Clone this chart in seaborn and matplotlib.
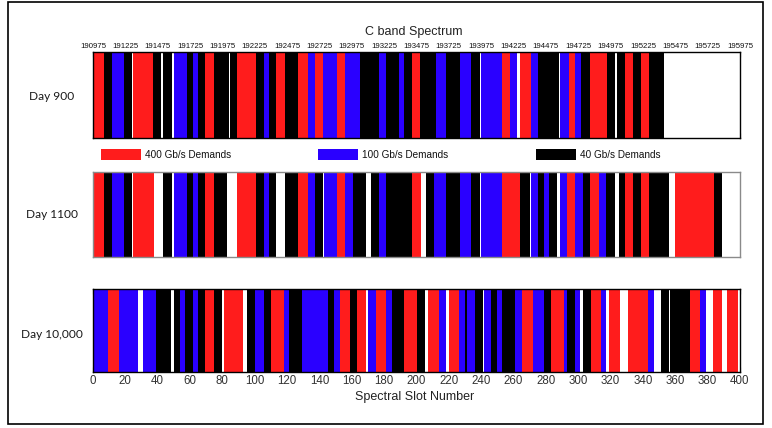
import numpy as np
import pandas as pd
import matplotlib
matplotlib.use("Agg")
import matplotlib.pyplot as plt
from matplotlib.colors import ListedColormap
from matplotlib.patches import Rectangle
import seaborn as sns

# ---------------- data ----------------
n_slots = 400
day_labels = ["Day 900", "Day 1100", "Day 10,000"]
demand_labels = ["400 Gb/s Demands", "100 Gb/s Demands", "40 Gb/s Demands"]
kind_codes = {"W": 0, "R": 1, "B": 2, "K": 3}   # empty, 400G, 100G, 40G
slot_ticks = list(range(0, 401, 20))
freq_labels = ["190975", "191225", "191475", "191725", "191975", "192225", "192475",
               "192725", "192975", "193225", "193475", "193725", "193975", "194225",
               "194475", "194725", "194975", "195225", "195475", "195725", "195975"]

day900_ends = [7, 12, 19, 24, 25, 37, 42, 43, 49, 50, 58, 62, 65, 69, 75, 84, 85, 89,
               101, 106, 109, 113, 119, 127, 133, 137, 142, 151, 156, 165, 177, 181, 189,
               192, 197, 202, 212, 218, 227, 234, 239, 240, 253, 258, 262, 264, 271, 275,
               288, 289, 294, 298, 302, 307, 318, 323, 324, 329, 334, 339, 344, 353, 400]
day900_kinds = ("R K B K W R K W K W B K B K R K W K R K B K R K R B R B R B K B K B K "
                "R K B K B K W B R B W R B K W B R B K R K W K R K R K W").split()

day1100_ends = [7, 12, 19, 24, 25, 38, 43, 49, 50, 58, 62, 65, 69, 75, 83, 89, 101, 106,
                109, 113, 119, 127, 133, 137, 142, 143, 151, 156, 161, 169, 172, 177, 181,
                197, 203, 206, 211, 218, 227, 234, 239, 240, 253, 264, 270, 271, 275, 279,
                282, 287, 289, 293, 298, 303, 307, 313, 317, 323, 325, 329, 334, 339, 344,
                356, 360, 384, 389, 400]
day1100_kinds = ("R K B K W R W K W B K B K R K W R K B K W K R B K W B R B K W K B K R "
                 "W K B K B K W B R K W B K B K W B R B K R B K W K R K R K W R K W").split()

day10000_ends = [9, 16, 28, 31, 39, 48, 50, 54, 57, 62, 65, 69, 75, 80, 81, 93, 95, 100,
                 106, 110, 118, 121, 129, 145, 149, 153, 159, 163, 169, 170, 175, 181, 185,
                 192, 200, 205, 207, 214, 218, 220, 226, 230, 231, 236, 241, 242, 246, 250,
                 253, 261, 265, 272, 279, 283, 291, 293, 298, 301, 303, 308, 314, 317, 319,
                 326, 331, 343, 347, 351, 356, 357, 369, 375, 379, 383, 389, 392, 399, 400]
day10000_kinds = ("B R B W B K W K B K B K R K W R W K B K R B K B K B R K R W B R B K R "
                  "K W R B W R B K B K W B K B K B R B K R B K B W K R B W R W R B W K W "
                  "K R B W R W R W").split()

panels = [(day900_ends, day900_kinds), (day1100_ends, day1100_kinds),
          (day10000_ends, day10000_kinds)]

# ---------------- style ----------------
RED, BLUE, BLACK = "#ff1c1c", "#2a00ff", "#000000"
cmap = ListedColormap(["#ffffff", RED, BLUE, BLACK])
sns.set_style("white")
plt.rcParams["font.family"] = ["Liberation Sans", "DejaVu Sans"]

W, H = 772, 428
fig = plt.figure(figsize=(W / 100, H / 100), dpi=100)

def fx(px):
    return px / W

def fy(py):
    return 1 - py / H

# axes rectangles in pixels: (top, bottom)
x0, x1 = 93, 740
rows = [(52, 138), (172, 257), (289, 372)]
label_y = [97, 215, 335]

axes = []
for i, ((ends, kinds), (t, b)) in enumerate(zip(panels, rows)):
    assert len(ends) == len(kinds)
    codes = np.zeros(n_slots, dtype=int)
    start = 0
    for e, k in zip(ends, kinds):
        codes[start:e] = kind_codes[k]
        start = e
    df = pd.DataFrame(codes[np.newaxis, :])
    ax = fig.add_axes([fx(x0), fy(b), fx(x1 - x0), (b - t) / H])
    sns.heatmap(df, ax=ax, cmap=cmap, vmin=-0.5, vmax=3.5, cbar=False,
                xticklabels=False, yticklabels=False)
    ax.set_xlim(0, n_slots)
    ax.set_ylabel("")
    ax.set_xlabel("")
    for sp in ax.spines.values():
        sp.set_visible(True)
        sp.set_linewidth(1.0)
        sp.set_color("#000000" if i != 1 else "#8a8a8a")
    ax.set_yticks([])
    if i == 0:
        ax.set_xticks(slot_ticks)
        ax.set_xticklabels(freq_labels, fontsize=5.6)
        ax.tick_params(axis="x", which="both", top=True, bottom=True,
                       labeltop=True, labelbottom=False, direction="in",
                       length=3.5, width=0.8, pad=1.5, labelcolor="#111111")
    elif i == 2:
        ax.set_xticks(slot_ticks)
        ax.set_xticklabels([str(s) for s in slot_ticks], fontsize=8.3)
        ax.tick_params(axis="x", which="both", top=True, bottom=True,
                       labeltop=False, labelbottom=True, direction="in",
                       length=3.5, width=0.8, pad=2, labelcolor="#333333")
    else:
        ax.set_xticks([])
    fig.text(fx(52), fy(label_y[i]), day_labels[i], ha="center", va="center",
             fontsize=8.6, family=["Lato", "DejaVu Sans"], color="#1a1a1a")
    axes.append(ax)

# title and axis label
fig.text(fx(414), fy(32), "C band Spectrum", ha="center", va="center",
         fontsize=9, color="#222222")
fig.text(fx(415), fy(397), "Spectral Slot Number", ha="center", va="center",
         fontsize=9, color="#222222")

# legend between panel 1 and 2
leg_x = [101, 318, 536]
for lx, lab, col in zip(leg_x, demand_labels, [RED, BLUE, BLACK]):
    fig.patches.append(Rectangle((fx(lx), fy(160)), fx(40), 11 / H,
                                 transform=fig.transFigure, facecolor=col,
                                 edgecolor="none"))
    fig.text(fx(lx + 44), fy(155.5), lab, ha="left", va="center",
             fontsize=7.2, color="#111111")

# figure frame
fig.patches.append(Rectangle((fx(8), fy(424)), fx(763 - 8), (424 - 2) / H,
                             transform=fig.transFigure, facecolor="none",
                             edgecolor="#000000", linewidth=1.2))

fig.savefig("out.png", dpi=100)
